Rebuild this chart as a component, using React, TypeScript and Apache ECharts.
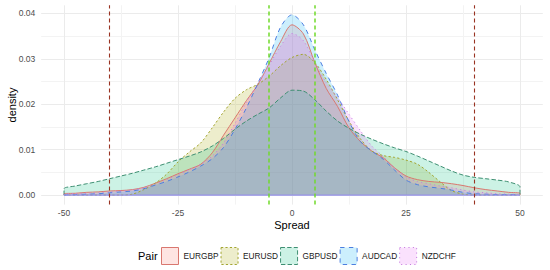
import React, { useEffect, useRef } from "react";
import * as echarts from "echarts";

const spread = [-50, -47.5, -45, -42.5, -40, -37.5, -35, -32.5, -30, -27.5, -25, -22.5, -20, -17.5, -15, -12.5, -10, -7.5, -5, -2.5, 0, 2.5, 5, 7.5, 10, 12.5, 15, 17.5, 20, 22.5, 25, 27.5, 30, 32.5, 35, 37.5, 40, 42.5, 45, 47.5, 50];

const pairs = ["EURGBP", "EURUSD", "GBPUSD", "AUDCAD", "NZDCHF"];

const eurgbp = [0.0003, 0.0004, 0.0006, 0.0007, 0.0009, 0.001, 0.0012, 0.0017, 0.0026, 0.0036, 0.0047, 0.0057, 0.0068, 0.0093, 0.0132, 0.017, 0.0208, 0.0243, 0.029, 0.0338, 0.0375, 0.0355, 0.0292, 0.0235, 0.0195, 0.0148, 0.0118, 0.0097, 0.0082, 0.006, 0.0042, 0.0034, 0.003, 0.0028, 0.0025, 0.0021, 0.0016, 0.0012, 0.0009, 0.0006, 0.0004];
const eurusd = [0, 0, 0, 0, 0, 0, 0.0002, 0.0012, 0.0026, 0.0046, 0.0073, 0.0095, 0.0115, 0.0148, 0.0183, 0.0213, 0.0232, 0.0244, 0.0262, 0.0285, 0.0303, 0.031, 0.0292, 0.0255, 0.021, 0.0163, 0.0124, 0.0097, 0.0087, 0.0083, 0.0077, 0.0068, 0.005, 0.0029, 0.001, 0.0002, 0, 0, 0, 0, 0];
const gbpusd = [0.0014, 0.002, 0.0025, 0.003, 0.0036, 0.0042, 0.0048, 0.0055, 0.0062, 0.007, 0.0078, 0.0086, 0.0095, 0.0108, 0.0125, 0.0145, 0.0163, 0.0178, 0.0192, 0.0214, 0.0231, 0.0229, 0.021, 0.0185, 0.0163, 0.0147, 0.0134, 0.0123, 0.0113, 0.0104, 0.0096, 0.0086, 0.0075, 0.0064, 0.0053, 0.0044, 0.0039, 0.0036, 0.0033, 0.0029, 0.0018];
const audcad = [0.0001, 0.0001, 0.0002, 0.0003, 0.0005, 0.0007, 0.0009, 0.0014, 0.0022, 0.003, 0.004, 0.0051, 0.0064, 0.008, 0.0105, 0.0145, 0.0192, 0.0246, 0.0303, 0.037, 0.0397, 0.0375, 0.032, 0.0268, 0.022, 0.0162, 0.0118, 0.0097, 0.0079, 0.0055, 0.0033, 0.0023, 0.0018, 0.0015, 0.0011, 0.0006, 0.0003, 0.0002, 0.0001, 0.0001, 0.0001];
const nzdchf = [0.0002, 0.0003, 0.0004, 0.0005, 0.0007, 0.0009, 0.0011, 0.0016, 0.0024, 0.0034, 0.0045, 0.0056, 0.0068, 0.0086, 0.0115, 0.0158, 0.0205, 0.0246, 0.0286, 0.0328, 0.0356, 0.034, 0.0292, 0.0248, 0.0215, 0.0178, 0.0142, 0.0108, 0.0085, 0.006, 0.004, 0.003, 0.0025, 0.002, 0.0016, 0.0011, 0.0007, 0.0005, 0.0003, 0.0002, 0.0001];

const densities = [eurgbp, eurusd, gbpusd, audcad, nzdchf];

const xTicks = [-50, -25, 0, 25, 50];
const xMinorTicks = [-37.5, -12.5, 12.5, 37.5];
const yTicks = [0, 0.01, 0.02, 0.03, 0.04];
const yMinorTicks = [0.005, 0.015, 0.025, 0.035];
const outerLines = [-40, 40];
const innerLines = [-5, 5];

const lineColors = ["#D9776F", "#A3A531", "#3E8F72", "#4C7FE0", "#C77DE0"];
const fillColors = [
  "rgba(248,118,109,0.2)",
  "rgba(163,165,0,0.2)",
  "rgba(0,191,125,0.2)",
  "rgba(0,176,246,0.2)",
  "rgba(231,107,243,0.2)",
];
const dashes: any[] = ["solid", [2.2, 2.2], [4.4, 2.2], [4.4, 4.4], [1.1, 3.3]];

const FONT = "'Liberation Sans', Arial, Helvetica, sans-serif";

function vlineSeries(name: string, values: number[], color: string, width: number) {
  const ls = { color, width, type: [4, 3], opacity: 1 };
  return {
    type: "line",
    name,
    data: [],
    silent: true,
    showSymbol: false,
    z: 20,
    color,
    itemStyle: { color },
    lineStyle: { color },
    markLine: {
      silent: true,
      z: 20,
      symbol: ["none", "none"],
      label: { show: false },
      animation: false,
      itemStyle: { color },
      lineStyle: ls,
      emphasis: { disabled: true },
      data: values.map((v) => ({ xAxis: v, lineStyle: ls, itemStyle: { color } })),
    },
  };
}

export default function App() {
  const ref = useRef<HTMLDivElement>(null);
  useEffect(() => {
    const chart = echarts.init(ref.current as HTMLDivElement, null, { renderer: "svg" });
    const xMin = -55, xMax = 55, yMin = -0.0021, yMax = 0.0418;
    const n = spread.length;
    const series: any[] = pairs.map((p, i) => ({
      type: "line",
      name: p,
      data: [[spread[0], 0], ...spread.map((x, j) => [x, densities[i][j]]), [spread[n - 1], 0]],
      showSymbol: false,
      symbol: "none",
      smooth: 0.3,
      silent: true,
      lineStyle: { color: lineColors[i], width: 1, type: dashes[i] },
      itemStyle: { color: lineColors[i] },
      areaStyle: { color: fillColors[i], opacity: 1 },
      emphasis: { disabled: true },
    }));
    series.push({
      type: "line",
      name: "baseline",
      data: [[spread[0], 0], [spread[n - 1], 0]],
      showSymbol: false,
      symbol: "none",
      silent: true,
      lineStyle: { color: "#9590E8", width: 1.2 },
      emphasis: { disabled: true },
    });
    series.push(vlineSeries("outer", outerLines, "#993322", 1.1));
    series.push(vlineSeries("inner", innerLines, "#72DA2C", 1.5));

    const option: any = {
      animation: false,
      backgroundColor: "#ffffff",
      grid: { left: 41.2, right: 7.2, top: 5.3, bottom: 65.4 },
      xAxis: [
        {
          type: "value", min: xMin, max: xMax,
          axisLine: { show: false },
          axisTick: { show: false, customValues: xTicks },
          axisLabel: { customValues: xTicks, fontSize: 8.5, color: "#4D4D4D", margin: 4, fontFamily: FONT },
          splitLine: { show: true, lineStyle: { color: "#EBEBEB", width: 1 } },
        },
        {
          type: "value", min: xMin, max: xMax,
          axisLine: { show: false },
          axisTick: { show: false, customValues: xMinorTicks },
          axisLabel: { show: false },
          splitLine: { show: true, lineStyle: { color: "#F3F3F3", width: 1 } },
        },
      ],
      yAxis: [
        {
          type: "value", min: yMin, max: yMax,
          axisLine: { show: false },
          axisTick: { show: false, customValues: yTicks },
          axisLabel: {
            customValues: yTicks, fontSize: 8.5, color: "#4D4D4D", margin: 6, fontFamily: FONT,
            formatter: (v: number) => v.toFixed(2),
          },
          splitLine: { show: true, lineStyle: { color: "#EBEBEB", width: 1 } },
        },
        {
          type: "value", min: yMin, max: yMax,
          axisLine: { show: false },
          axisTick: { show: false, customValues: yMinorTicks },
          axisLabel: { show: false },
          splitLine: { show: true, lineStyle: { color: "#F3F3F3", width: 1 } },
        },
      ],
      legend: {
        left: 161, top: 247, padding: 0,
        itemWidth: 17, itemHeight: 17, itemGap: 2,
        selectedMode: false,
        textStyle: { fontSize: 8.3, color: "#1A1A1A", fontFamily: FONT },
        data: pairs.map((p, i) => ({
          name: p,
          icon: "rect",
          itemStyle: { color: fillColors[i], borderColor: lineColors[i], borderWidth: 1, borderType: dashes[i] },
        })),
      },
      graphic: [
        { type: "text", x: 292, y: 225, silent: true, style: { text: "Spread", fill: "#000", font: `11px ${FONT}`, align: "center", verticalAlign: "middle" } },
        { type: "text", x: 12, y: 105, rotation: Math.PI / 2, silent: true, style: { text: "density", fill: "#000", font: `11px ${FONT}`, align: "center", verticalAlign: "middle" } },
        { type: "text", x: 138, y: 256, silent: true, style: { text: "Pair", fill: "#000", font: `11px ${FONT}`, align: "left", verticalAlign: "middle" } },
      ],
      series,
    };
    chart.setOption(option);
    return () => chart.dispose();
  }, []);
  return <div ref={ref} style={{ position: "fixed", left: 0, top: 0, width: 550, height: 270, background: "#fff" }} />;
}
